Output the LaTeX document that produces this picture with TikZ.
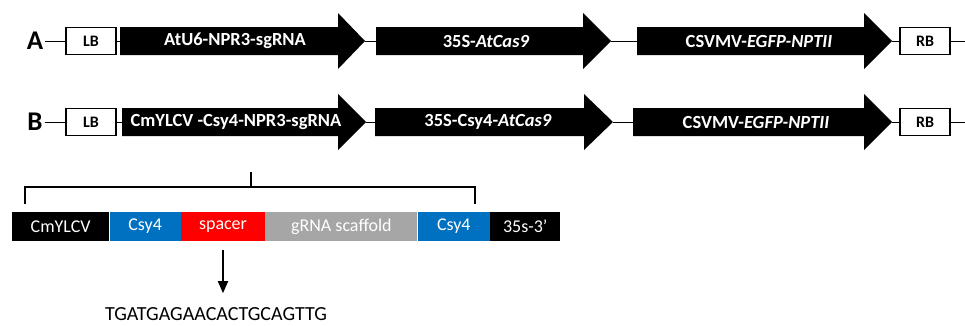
\documentclass[tikz,border=0pt]{standalone}
\usepackage{fontspec}
\setmainfont{Carlito}
\usetikzlibrary{arrows.meta,calc}
\definecolor{cblue}{HTML}{0070C0}
\definecolor{cred}{HTML}{FF0000}
\definecolor{cgrey}{HTML}{A6A6A6}
\tikzset{
  rowletter/.style={font=\bfseries\fontsize{27}{29}\selectfont, inner sep=2pt},
  border/.style={draw=black, line width=1.1pt, fill=white, minimum width=50pt, minimum height=27pt, inner sep=0pt, font=\bfseries\fontsize{16}{18}\selectfont},
  genebody/.style={fill=black},
  genelabel/.style={text=white, font=\bfseries\fontsize{18.5}{20}\selectfont, inner sep=0pt},
  link/.style={line width=1pt},
  seg/.style={minimum height=29pt, minimum width=#1, inner sep=0pt, text=white, anchor=west, font=\fontsize{18}{20}\selectfont},
  brk/.style={line width=2.4pt},
  darr/.style={line width=1.8pt, -{Triangle[length=12pt,width=10pt]}}
}
\newcommand{\genearrow}[4]{%
  \fill[genebody] (#1,#4-14) -- (#2,#4-14) -- (#2,#4-28) -- (#3,#4) -- (#2,#4+28) -- (#2,#4+14) -- (#1,#4+14) -- cycle;}
\begin{document}
\begin{tikzpicture}[x=1pt,y=-1pt]
\useasboundingbox (0,0) rectangle (965,325);

% ---------- Row A ----------
\node[rowletter] (lA) at (35,41) {A};
\node[border] (lbA) at (91,41) {LB};
\genearrow{120}{338}{365}{41}
\coordinate (a1s) at (120,41); \coordinate (a1t) at (365,41);
\node[genelabel] (a1) at (235,41) {AtU6-NPR3-sgRNA};
\genearrow{376}{583}{611}{41}
\coordinate (a2s) at (376,41); \coordinate (a2t) at (611,41);
\node[genelabel] (a2) at (486,41) {35S-\textit{AtCas9}};
\genearrow{637}{864}{892}{41}
\coordinate (a3s) at (637,41); \coordinate (a3t) at (892,41);
\node[genelabel] (a3) at (759,41) {CSVMV-\textit{EGFP-NPTII}};
\node[border] (rbA) at (925,41) {RB};
\coordinate (endA) at (965,41);
\draw[link] (lA.east) -- (lbA.west);
\draw[link] (lbA.east) -- (a1s);
\draw[link] (a1t) -- (a2s);
\draw[link] (a2t) -- (a3s);
\draw[link] (a3t) -- (rbA.west);
\draw[link] (rbA.east) -- (endA);

% ---------- Row B ----------
\node[rowletter] (lB) at (35,122) {B};
\node[border] (lbB) at (91,122) {LB};
\genearrow{122}{338}{366}{122}
\coordinate (b1s) at (122,122); \coordinate (b1t) at (366,122);
\node[genelabel] (b1) at (236,122) {CmYLCV -Csy4-NPR3-sgRNA};
\genearrow{375}{584}{613}{122}
\coordinate (b2s) at (375,122); \coordinate (b2t) at (613,122);
\node[genelabel] (b2) at (488,122) {35S-Csy4-\textit{AtCas9}};
\genearrow{633}{864}{892}{122}
\coordinate (b3s) at (633,122); \coordinate (b3t) at (892,122);
\node[genelabel] (b3) at (756,122) {CSVMV-\textit{EGFP-NPTII}};
\node[border] (rbB) at (925,122) {RB};
\coordinate (endB) at (965,122);
\draw[link] (lB.east) -- (lbB.west);
\draw[link] (lbB.east) -- (b1s);
\draw[link] (b1t) -- (b2s);
\draw[link] (b2t) -- (b3s);
\draw[link] (b3t) -- (rbB.west);
\draw[link] (rbB.east) -- (endB);

% ---------- bracket ----------
\coordinate (stemtop) at (251,172);
\coordinate (stembot) at (251,187);
\coordinate (bl) at (25,204);
\coordinate (br) at (475,204);
\draw[brk] (bl) |- (stembot) -| (br);
\draw[brk] (stemtop) -- (stembot);

% ---------- cassette bar ----------
\node[seg=97pt, fill=black] (s1) at (12,226.5) {CmYLCV};
\node[seg=71pt, fill=cblue] (s2) at (s1.east) {Csy4};
\node[seg=84pt, fill=cred] (s3) at (s2.east) {spacer};
\node[seg=152pt, fill=cgrey] (s4) at (s3.east) {gRNA scaffold};
\node[seg=72pt, fill=cblue] (s5) at (s4.east) {Csy4};
\node[seg=70pt, fill=black] (s6) at (s5.east) {35s-3\textquoteright};

% ---------- spacer sequence ----------
\node[font=\fontsize{20}{22}\selectfont, inner sep=0pt] (seq) at (216,314) {TGATGAGAACACTGCAGTTG};
\coordinate (arrtop) at ($(s3.south)+(0,9)$);
\coordinate (arrend) at ($(s3.south)+(0,52)$);
\draw[darr] (arrtop) -- (arrend);
\end{tikzpicture}
\end{document}
